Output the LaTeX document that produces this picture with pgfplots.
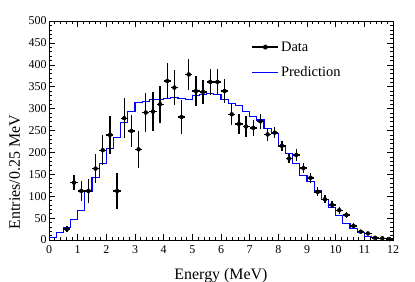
\documentclass[border=0pt]{standalone}
\usepackage{fontspec}
\setmainfont{Liberation Serif}
\usepackage{pgfplots}
\usepackage{pgfplotstable}
\pgfplotsset{compat=1.18}
\pgfplotstableread{
x y ey
0.625 25 6
0.875 131 17
1.125 112 23
1.375 112 27
1.625 163 34
1.875 205 34
2.125 240 43
2.375 112 41
2.625 278 46
2.875 249 37
3.125 207 43
3.375 291 44
3.625 293 44
3.875 310 42
4.125 363 41
4.375 348 40
4.625 281 38
4.875 378 36
5.125 340 34
5.375 338 28
5.625 361 30
5.875 361 29
6.125 340 27
6.375 287 25
6.625 265 22
6.875 259 23
7.125 256 18
7.375 271 17
7.625 241 15
7.875 245 13
8.125 215 12
8.375 186 11
8.625 194 14
8.875 164 12
9.125 142 11
9.375 110 10
9.625 93 9
9.875 80 8
10.125 68 8
10.375 57 7
10.625 32 6
10.875 19 4
11.125 15 4
11.375 5 3
11.625 4 2
11.875 2 2
}\datatable
\pgfplotstableread{
x y
0 6
0.25 17
0.5 29
0.75 46
1.0 68
1.25 110
1.5 143
1.75 175
2.0 209
2.25 234
2.5 268
2.75 293
3.0 313
3.25 317
3.5 320
3.75 321
4.0 324
4.25 325
4.5 323
4.75 321
5.0 329
5.25 332
5.5 334
5.75 333
6.0 320
6.25 312
6.5 307
6.75 293
7.0 282
7.25 274
7.5 255
7.75 244
8.0 213
8.25 198
8.5 175
8.75 148
9.0 133
9.25 112
9.5 93
9.75 75
10.0 55
10.25 38
10.5 27
10.75 17
11.0 9
11.25 5
11.5 4
11.75 3
12.0 3
}\predtable
\begin{document}
\begin{tikzpicture}
\path[use as bounding box] (-49bp,-42bp) rectangle (366bp,240bp);
\begin{axis}[
 at={(0,0)}, anchor=south west,
 scale only axis, width=344bp, height=219bp,
 xmin=0, xmax=12, ymin=0, ymax=500,
 xtick={0,...,12}, ytick={0,50,...,500},
 xticklabels={0,1,2,3,4,5,6,7,8,9,10,11,12},
 yticklabels={0,50,100,150,200,250,300,350,400,450,500},
 minor x tick num=4, minor y tick num=4,
 tick align=inside,
 major tick length=6bp, minor tick length=3bp,
 every tick/.style={black, line width=0.5pt},
 axis line style={line width=0.6pt},
 ticklabel style={font=\rmfamily\fontsize{12}{14}\selectfont},
 xticklabel style={yshift=-2bp},
 yticklabel style={xshift=1bp},
 xlabel={Energy (MeV)}, ylabel={Entries/0.25 MeV},
 label style={font=\rmfamily\fontsize{16}{19}\selectfont},
 xlabel style={at={(axis description cs:0.5,-0.1826)}, anchor=base},
 ylabel style={at={(axis description cs:-0.0843,0.31)}, anchor=base},
 legend style={at={(rel axis cs:0.58,0.925)}, anchor=north west, draw=none, fill=none, font=\rmfamily\fontsize{14.5}{17}\selectfont, row sep=10bp},
 legend cell align=left,
]
\addplot[blue, line width=1.1pt, const plot mark left, no marks, forget plot] table[x=x,y=y] {\predtable};
\addplot[black, only marks, mark=*, mark size=2pt, forget plot,
  error bars/.cd, x dir=both, x fixed=0.125, y dir=both, y explicit, error mark=none,
  error bar style={line width=1.4pt}] table[x=x,y=y,y error=ey] {\datatable};
\addlegendimage{legend image code/.code={\draw[black,line width=1.4pt] (0bp,0bp)--(26bp,0bp); \fill[black] (13bp,0bp) circle (2.2bp);}}
\addlegendentry{Data}
\addlegendimage{legend image code/.code={\draw[blue,line width=1.1pt] (0bp,0bp)--(26bp,0bp);}}
\addlegendentry{Prediction}
\end{axis}
\end{tikzpicture}
\end{document}
